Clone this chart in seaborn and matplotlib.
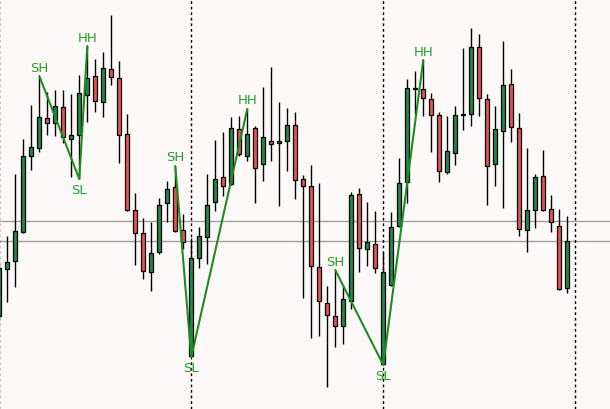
import numpy as np
import pandas as pd
import seaborn as sns
import matplotlib
matplotlib.use("Agg")
import matplotlib.pyplot as plt

# candle data (price units)
opens = [93, 140, 148, 177, 253, 261, 291, 286, 302, 270, 274, 314, 333, 307, 340, 331, 275, 199,
         176, 137, 157, 206, 222, 179, 53, 151, 172, 207, 232, 225, 280, 253, 281, 245, 268, 266,
         268, 284, 230, 223, 142, 106, 93, 83, 108, 215, 160, 165, 45, 124, 183, 227, 320, 320,
         310, 294, 237, 256, 294, 295, 362, 310, 245, 278, 325, 281, 179, 199, 233, 200, 183, 121]
closes = [141, 147, 178, 253, 262, 292, 286, 303, 272, 274, 316, 331, 308, 341, 332, 274, 199, 176,
          138, 156, 204, 220, 178, 167, 151, 173, 204, 230, 223, 281, 255, 275, 241, 272, 265, 268,
          284, 229, 223, 143, 108, 94, 83, 110, 214, 161, 167, 141, 137, 182, 226, 321, 321, 311,
          294, 238, 258, 294, 295, 362, 311, 243, 280, 324, 282, 180, 199, 232, 199, 187, 120, 168]
highs = [145, 173, 235, 270, 304, 333, 317, 319, 319, 315, 334, 363, 350, 357, 394, 348, 295, 216,
         191, 187, 211, 228, 243, 195, 171, 182, 235, 269, 277, 292, 293, 300, 283, 322, 342, 307,
         301, 297, 234, 244, 226, 123, 139, 123, 217, 221, 207, 198, 157, 197, 251, 330, 338, 349,
         316, 297, 293, 303, 361, 381, 375, 315, 303, 368, 340, 296, 261, 235, 259, 214, 200, 193]
lows = [90, 107, 122, 176, 239, 257, 274, 273, 266, 232, 230, 287, 297, 292, 324, 246, 198, 144,
        130, 118, 155, 187, 177, 160, 52, 141, 145, 198, 213, 224, 253, 248, 206, 228, 248, 203,
        238, 210, 111, 71, 73, 22, 62, 65, 100, 137, 143, 136, 44, 123, 182, 206, 295, 293,
        257, 227, 235, 244, 279, 283, 293, 204, 223, 201, 267, 173, 157, 181, 198, 177, 119, 116]

# swing points: SH -> SL -> HH, three times
swing_idx = [5, 10, 11, 22, 24, 31, 42, 48, 53]
swing_price = [333, 230, 363, 243, 52, 300, 139, 44, 349]
swing_lab = ["SH", "SL", "HH", "SH", "SL", "HH", "SH", "SL", "HH"]
swing_grp = [1, 1, 1, 2, 2, 2, 3, 3, 3]

levels = [188, 168]          # the two grey horizontal lines
period_marks = [0, 24, 48, 72]  # dotted vertical separators

df = pd.DataFrame({"o": opens, "c": closes, "h": highs, "l": lows})
df["i"] = np.arange(len(df))
up = df[df.c >= df.o]
dn = df[df.c < df.o]

sw = pd.DataFrame({"i": swing_idx, "p": swing_price, "lab": swing_lab, "g": swing_grp})

sns.set_style("white")
bg = "#fdf9f9"
fig = plt.figure(figsize=(6.1, 4.1), dpi=100, facecolor=bg)
ax = fig.add_axes([0, 0, 1, 1])
ax.set_facecolor(bg)

for lv in levels:
    ax.axhline(lv, color="#a0a0a0", lw=1, zorder=1)
for pm in period_marks:
    ax.axvline(pm, color="black", lw=1, ls=(0, (2, 2)), zorder=1)

ax.vlines(df.i, df.l, df.h, color="black", lw=1, zorder=2)
ax.bar(up.i, (up.c - up.o).clip(lower=0.8), bottom=up.o, width=0.5,
       color="#23884a", edgecolor="black", lw=0.9, zorder=3)
ax.bar(dn.i, dn.c - dn.o, bottom=dn.o, width=0.5,
       color="#e25555", edgecolor="black", lw=0.9, zorder=3)

sns.lineplot(data=sw, x="i", y="p", units="g", estimator=None, sort=False,
             color="#1e8c1e", lw=1.5, ax=ax, zorder=4, legend=False)

for _, r in sw.iterrows():
    dy = -11 if r.lab == "SL" else 9
    ax.text(r.i, r.p + dy, r.lab, color="#25a025", fontsize=9.5,
            ha="center", va="center", zorder=5)

ax.set_xlim(0.0875, 76.34)
ax.set_ylim(0, 410)
ax.axis("off")

fig.savefig("out.png", dpi=100, facecolor=bg)
